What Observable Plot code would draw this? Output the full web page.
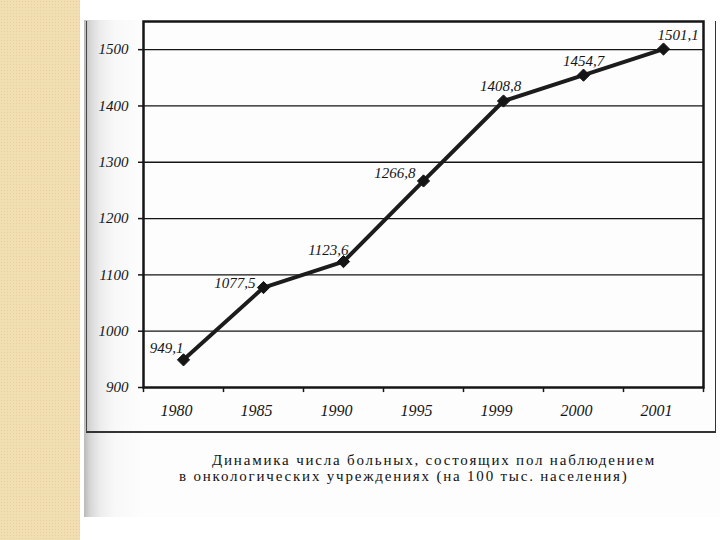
<!DOCTYPE html>
<html>
<head>
<meta charset="utf-8">
<script src="https://cdn.jsdelivr.net/npm/d3@7"></script>
<script src="https://cdn.jsdelivr.net/npm/@observablehq/plot@0.6"></script>
<style>
  html, body { margin: 0; padding: 0; background: #ffffff; }
  #page { position: relative; width: 720px; height: 540px; overflow: hidden; background: #ffffff; }
  #beige { position: absolute; left: 0; top: 0; width: 80px; height: 540px;
    background-color: #f1dfb2;
    background-image: radial-gradient(rgba(200,170,110,0.25) 1px, transparent 1px);
    background-size: 3px 3px; }
  #scan { position: absolute; left: 84px; top: 20px; width: 636px; height: 497px;
    background: linear-gradient(to right, #b9b9b9 0px, #d6d6d6 6px, #ececec 16px, #f8f8f8 30px, #fdfdfd 60px, #fdfdfd 100%); }
  #outer { position: absolute; left: 86px; top: 21px; width: 628px; height: 410px;
    border-left: 1.5px solid #444; border-right: 1.5px solid #333; border-bottom: 2px solid #333; }
  #chart { position: absolute; left: 0; top: 0; }
  #caption { position: absolute; left: 179px; top: 452px; font-family: "Liberation Serif", "Times New Roman", serif;
    font-size: 15px; line-height: 16px; letter-spacing: 1.8px; color: #111; white-space: nowrap; }
  #caption .l1 { padding-left: 33px; }
</style>
</head>
<body>
<div id="page">
  <div id="beige"></div>
  <div id="scan"></div>
  <div id="outer"></div>
  <div id="chart"></div>
  <div id="caption">
    <div class="l1">Динамика числа больных, состоящих пол наблюдением</div>
    <div class="l2">в онкологических учреждениях (на 100 тыс. населения)</div>
  </div>
</div>
<script>
const years = ["1980", "1985", "1990", "1995", "1999", "2000", "2001"];
const values = [949.1, 1077.5, 1123.6, 1266.8, 1408.8, 1454.7, 1501.1];
const valueLabels = ["949,1", "1077,5", "1123,6", "1266,8", "1408,8", "1454,7", "1501,1"];
const yTicks = [900, 1000, 1100, 1200, 1300, 1400, 1500];

const data = years.map((year, i) => ({year, value: values[i], label: valueLabels[i]}));

const ink = "#151515";
const serif = "'Liberation Serif', 'Times New Roman', serif";
const labelMark = (i, anchor, dx, dy) => Plot.text(data, {
  filter: (d, j) => j === i, x: "year", y: "value", text: "label",
  textAnchor: anchor, dx, dy, fill: ink, fontSize: 15, fontStyle: "italic", fontFamily: serif
});

const chart = Plot.plot({
  width: 720,
  height: 440,
  marginLeft: 143,
  marginRight: 17,
  marginTop: 21,
  marginBottom: 53,
  style: {fontFamily: serif, fontStyle: "italic", fontSize: "15px", background: "transparent", color: ink},
  x: {type: "point", domain: years, padding: 0.5},
  y: {domain: [900, 1550]},
  marks: [
    Plot.gridY(yTicks.slice(1), {stroke: ink, strokeOpacity: 1, strokeWidth: 1.3}),
    Plot.frame({stroke: ink, strokeWidth: 2.5}),
    Plot.ruleX(years, {x: d => d, y1: 900, y2: 891, dx: -40, stroke: ink, strokeWidth: 1.5}),
    Plot.ruleX([years[years.length - 1]], {x: d => d, y1: 900, y2: 891, dx: 40, stroke: ink, strokeWidth: 1.5}),
    Plot.axisY(yTicks, {tickSize: 5, tickPadding: 10, fontSize: 15, fontStyle: "italic", fontFamily: serif, stroke: ink, fill: ink, strokeWidth: 1.5, tickFormat: d => String(d), label: null}),
    Plot.axisX(years, {tickSize: 0, tickPadding: 17, fontSize: 16, fontStyle: "italic", fontFamily: serif, dx: -7, fill: ink, label: null}),
    Plot.line(data, {x: "year", y: "value", stroke: "#1c1c1c", strokeWidth: 4}),
    Plot.dot(data, {x: "year", y: "value", symbol: "diamond2", r: 5.5, fill: ink, stroke: ink, strokeWidth: 1}),
    labelMark(0, "end", 0, -12),
    labelMark(1, "end", -8, -4),
    labelMark(2, "end", 5, -11),
    labelMark(3, "end", -8, -8),
    labelMark(4, "middle", -3, -15),
    labelMark(5, "middle", 0, -14),
    labelMark(6, "start", -6, -14)
  ]
});
document.getElementById("chart").appendChild(chart);
</script>
</body>
</html>
